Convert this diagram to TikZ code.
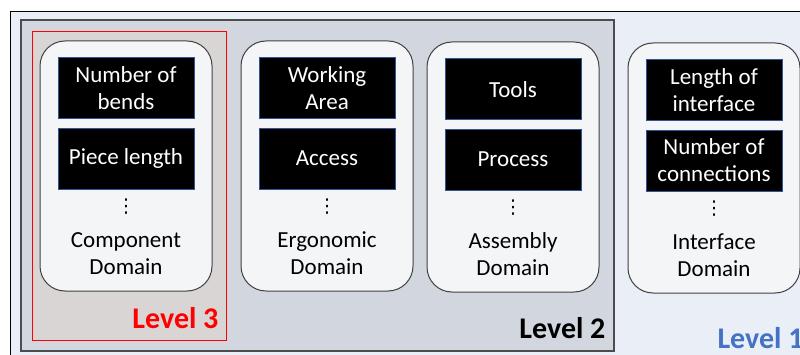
\documentclass[tikz,border=0pt]{standalone}
\usepackage{fontspec}
\setmainfont{Carlito}
\newfontfamily\dotsfont{DejaVu Sans}
\usetikzlibrary{positioning}
\definecolor{levelonefill}{HTML}{E9EEF7}
\definecolor{leveltwofill}{HTML}{D2D6DE}
\definecolor{levelthreefill}{HTML}{D9D5D5}
\definecolor{domainfill}{HTML}{F4F5F6}
\definecolor{paramedge}{HTML}{2F5597}
\definecolor{levelblue}{HTML}{4472C4}

\begin{document}
\begin{tikzpicture}[x=1pt, y=-1pt, font=\fontsize{23}{27}\selectfont,
        domainbox/.style={draw=black!75, fill=domainfill, line width=1pt,
            rounded corners=25pt, minimum width=172pt, minimum height=250pt},
        param/.style={draw=paramedge, fill=black, text=white, align=center,
            inner sep=0pt, minimum width=136pt, minimum height=61pt},
        moredots/.style={inner sep=0pt, font=\dotsfont\fontsize{19}{19}\selectfont},
        levelname/.style={font=\fontsize{30}{34}\selectfont\bfseries}]
            \useasboundingbox (0,0) rectangle (800,355);
            \clip (0,0) rectangle (800,355);
            % nested levels
            \draw[fill=levelonefill, line width=0.8pt] (10,11) rectangle (830,380);
            \draw[fill=leveltwofill, draw=black!70, line width=1.2pt] (21,20) rectangle (614,351);
            \draw[fill=levelthreefill, draw=red, line width=1pt] (32,32) rectangle (226,340);
            \node[levelname, text=red, anchor=base east] (lvlthree) at (222,328) {Level 3};
            \node[levelname, anchor=base east] (lvltwo) at (609,338) {Level 2};
            \node[levelname, text=levelblue, anchor=base west] (lvlone) at (714,348) {Level 1};

            % domains
            \node[domainbox] (comp) at (126,166) {};
            \node[domainbox] (ergo) at (327,166) {};
            \node[domainbox] (asm) at (513,167) {};
            \node[domainbox] (intf) at (714,168) {};

            \node[param, below=17pt of comp.north] (bends) {Number of\\bends};
            \node[param, below=9pt of bends] (piece) {Piece length};
            \node[param, below=17pt of ergo.north] (area) {Working\\Area};
            \node[param, below=9pt of area] (access) {Access};
            \node[param, below=17pt of asm.north] (tools) {Tools};
            \node[param, below=9pt of tools] (process) {Process};
            \node[param, below=17pt of intf.north] (ilength) {Length of\\interface};
            \node[param, below=9pt of ilength] (conn) {Number of\\connections};

            \node[moredots, below=9pt of piece] (compdots) {⋮};
            \node[moredots, below=9pt of access] (ergodots) {⋮};
            \node[moredots, below=9pt of process] (asmdots) {⋮};
            \node[moredots, below=9pt of conn] (intfdots) {⋮};

            \node[align=center, above=13pt of comp.south] (complabel) {Component\\Domain};
            \node[align=center, above=13pt of ergo.south] (ergolabel) {Ergonomic\\Domain};
            \node[align=center, above=13pt of asm.south] (asmlabel) {Assembly\\Domain};
            \node[align=center, above=13pt of intf.south] (intflabel) {Interface\\Domain};
        \end{tikzpicture}
\end{document}
